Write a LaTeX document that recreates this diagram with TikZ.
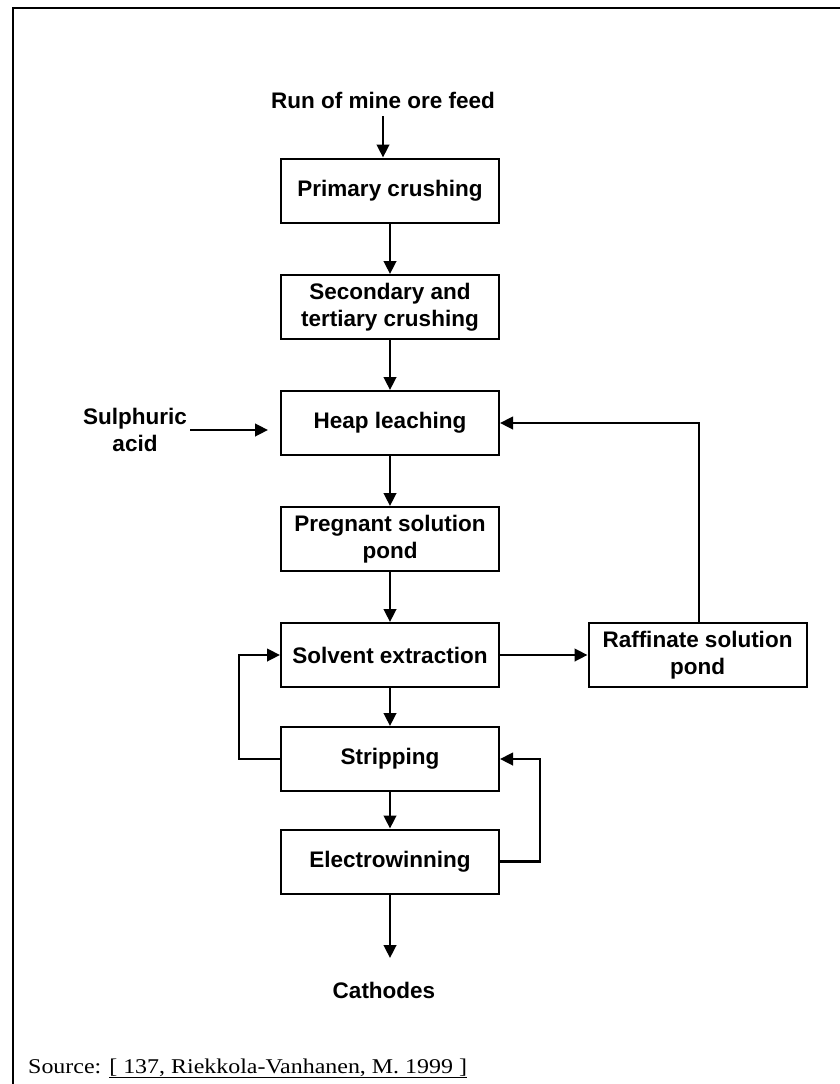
\documentclass[tikz,border=0pt]{standalone}
\usepackage{fontspec}
\usepackage{graphicx}
\setmainfont{Liberation Serif}
\newfontfamily\arialfont{Liberation Sans}
\usetikzlibrary{arrows.meta}
\begin{document}
\begin{tikzpicture}[x=1pt,y=-1pt,
  proc/.style={draw,line width=2pt,minimum width=218pt,minimum height=64pt,inner sep=0pt,align=center,
    font=\arialfont\bfseries\fontsize{22.5}{27.5}\selectfont},
  lbl/.style={align=center,inner sep=0pt,font=\arialfont\bfseries\fontsize{22.5}{26.5}\selectfont},
  flow/.style={line width=2.6pt,-{Triangle[length=13pt,width=12.5pt]}}]
\useasboundingbox (0,0) rectangle (840,1084);
\fill[white] (0,0) rectangle (840,1084);
\draw[line width=2.4pt] (13,1085) -- (13,8) -- (841,8);

\node[lbl] (feed) at (383,100) {Run of mine ore feed};
\node[proc] (prim) at (390,190.5) {Primary crushing};
\node[proc] (sec) at (390,307) {Secondary and\\tertiary crushing};
\node[proc] (heap) at (390,423) {Heap leaching};
\node[proc] (preg) at (390,539) {Pregnant solution\\pond};
\node[proc] (solv) at (390,655) {Solvent extraction};
\node[proc] (strip) at (390,759) {Stripping};
\node[proc] (elec) at (390,861.5) {Electrowinning};
\node[proc] (raff) at (697.5,655) {Raffinate solution\\pond};
\node[lbl] (acid) at (135,430) {Sulphuric\\acid};
\node[lbl] (cath) at (384,990) {Cathodes};
\coordinate (cend) at (390,958);
\coordinate (acidend) at (268,430);
\coordinate (lloop) at (239,0);
\coordinate (rloop) at (540,0);
\coordinate (rafup) at (699,0);

\draw[flow] (feed.south) ++(0,8) -- (feed.south |- prim.north);
\draw[flow] (prim) -- (sec);
\draw[flow] (sec) -- (heap);
\draw[flow] (acid.east) ++(3,0) -- (acidend);
\draw[flow] (heap) -- (preg);
\draw[flow] (preg) -- (solv);
\draw[flow] (solv) -- (raff);
\draw[flow] (rafup |- raff.north) -- (rafup |- heap.east) -- (heap.east);
\draw[flow] (solv) -- (strip);
\draw[flow] (strip.west) -- (lloop |- strip.west) -- (lloop |- solv.west) -- (solv.west);
\draw[flow] (strip) -- (elec);
\draw[flow] (elec.east) -- (rloop |- elec.east) -- (rloop |- strip.east) -- (strip.east);
\draw[flow] (elec.south) -- (cend);

\node[anchor=base west,inner sep=0pt,font=\fontsize{21}{25}\selectfont] (src) at (28,1073)
  {\scalebox{1.14}[1]{Source: \underline{[ 137, Riekkola-Vanhanen, M. 1999 ]}}};
\end{tikzpicture}
\end{document}
